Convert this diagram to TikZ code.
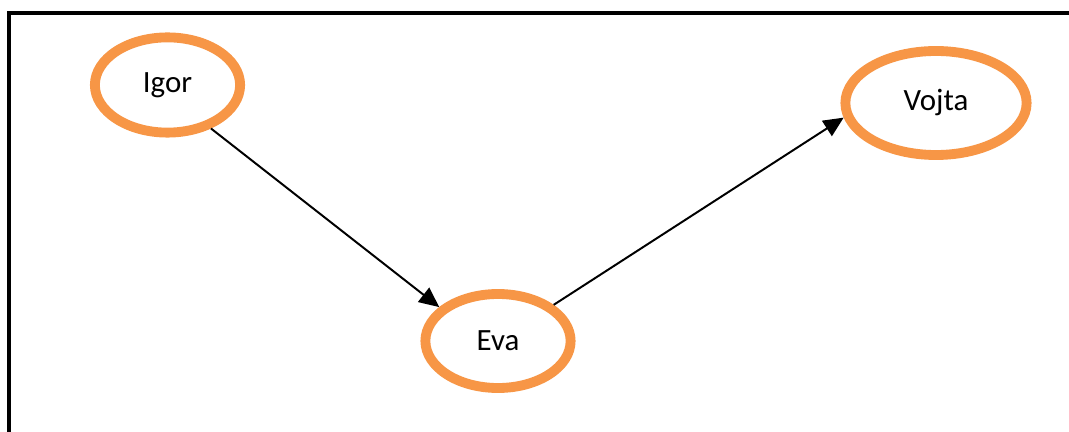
\documentclass[tikz,border=0pt]{standalone}
\usepackage{fontspec}
\setmainfont{Carlito}
\usetikzlibrary{shapes.geometric,arrows.meta}
\definecolor{ringorange}{HTML}{F79646}
\begin{document}
\begin{tikzpicture}[x=0.025cm,y=-0.025cm,
  person/.style={ellipse,draw=ringorange,line width=7pt,fill=white,
    font=\fontsize{22}{26}\selectfont},
  link/.style={line width=1.4pt,-{Triangle[length=0.5cm,width=0.45cm]}}]
\useasboundingbox (0,0) rectangle (1069,432);
\draw[line width=2.2pt] (9,432) -- (9,13) -- (1069,13);

\node[person,minimum width=3.63cm,minimum height=2.38cm] (igor) at (167.5,85) {Igor};
\node[person,minimum width=3.63cm,minimum height=2.35cm] (eva) at (498,341) {Eva};
\node[person,minimum width=4.53cm,minimum height=2.6cm] (vojta) at (936,103) {Vojta};

\draw[link] (igor.315) -- (eva.150);
\draw[link] (eva.33) -- (vojta.189);
\end{tikzpicture}
\end{document}
